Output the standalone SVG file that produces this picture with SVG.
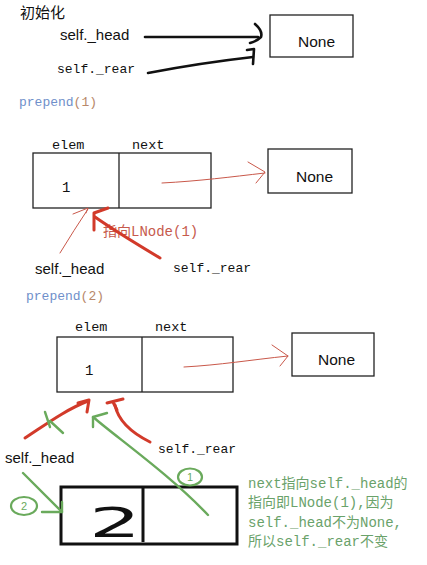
<svg xmlns="http://www.w3.org/2000/svg" width="427" height="565" viewBox="0 0 427 565">
<style>
.sans{font-family:"Liberation Sans","Noto Sans CJK SC",sans-serif;fill:#111}
.mono{font-family:"Liberation Mono","Noto Sans CJK SC",monospace;fill:#111}
.box{fill:#fff;stroke:#222;stroke-width:1.3}
.bk{fill:none;stroke:#111;stroke-width:2.6;stroke-linecap:round;stroke-linejoin:round}
.rt{fill:none;stroke:#c9584a;stroke-width:1;stroke-linecap:round}
.rd{fill:none;stroke:#d23a2a;stroke-width:3;stroke-linecap:round;stroke-linejoin:round}
.gr{fill:none;stroke:#6aaa5c;stroke-width:2.4;stroke-linecap:round;stroke-linejoin:round}
.blue{fill:#6f8fca}
.brown{fill:#b8886a}
.gtxt{font-family:"Liberation Mono","Noto Sans CJK SC",monospace;font-size:14px;fill:#6aa26a}
</style>
<rect width="427" height="565" fill="#fff"/>

<g id="title-init"><text class="sans" x="20" y="18" font-size="15">初始化</text></g>
<g id="head1"><text class="sans" x="60" y="40" font-size="15">self._head</text></g>
<g id="rear1"><text class="mono" x="57" y="73" font-size="13">self._rear</text></g>
<g id="none1"><rect class="box" x="270" y="15" width="83" height="42"/><text class="sans" x="298" y="47" font-size="15.5">None</text></g>
<g id="prepend1"><text font-family="Liberation Mono, monospace" font-size="13" x="19" y="106"><tspan class="blue">prepend</tspan><tspan class="brown">(1)</tspan></text></g>

<g id="node1">
<text class="mono" x="52" y="149" font-size="13.5">elem</text>
<text class="mono" x="132" y="149" font-size="13.5">next</text>
<rect class="box" x="33" y="153" width="178" height="55"/>
<line x1="119" y1="153" x2="119" y2="208" stroke="#222" stroke-width="1.3"/>
<text class="mono" x="62" y="192" font-size="14">1</text>
</g>
<g id="none2"><rect class="box" x="268" y="149" width="84" height="44"/><text class="sans" x="296" y="182" font-size="15.5">None</text></g>
<g id="note-lnode"><text font-family="Liberation Mono, Noto Sans CJK SC, monospace" font-size="14" x="103" y="236" fill="#c65a4c">指向LNode(1)</text></g>
<g id="head2"><text class="sans" x="35" y="274" font-size="15">self._head</text></g>
<g id="rear2"><text class="mono" x="173" y="272" font-size="13">self._rear</text></g>
<g id="prepend2"><text font-family="Liberation Mono, monospace" font-size="13" x="26" y="300"><tspan class="blue">prepend</tspan><tspan class="brown">(2)</tspan></text></g>

<g id="node1b">
<text class="mono" x="75" y="331" font-size="13.5">elem</text>
<text class="mono" x="155" y="331" font-size="13.5">next</text>
<rect class="box" x="57" y="337" width="176" height="55"/>
<line x1="142" y1="337" x2="142" y2="392" stroke="#222" stroke-width="1.3"/>
<text class="mono" x="85" y="375" font-size="14">1</text>
</g>
<g id="none3"><rect class="box" x="292" y="333" width="82" height="43"/><text class="sans" x="318" y="365" font-size="15.5">None</text></g>
<g id="head3"><text class="sans" x="5" y="463" font-size="15">self._head</text></g>
<g id="rear3"><text class="mono" x="158" y="453" font-size="13">self._rear</text></g>

<g id="node2">
<rect x="61" y="487" width="176" height="57" fill="#fff" stroke="#111" stroke-width="3"/>
<line x1="143" y1="487" x2="143" y2="542" stroke="#111" stroke-width="3"/>
<text x="89" y="537" font-family="DejaVu Sans, sans-serif" font-size="40" fill="#111" textLength="52" lengthAdjust="spacingAndGlyphs">2</text>
</g>
<g id="mark1"><ellipse cx="190" cy="477" rx="12" ry="8.5" fill="none" stroke="#6aaa5c" stroke-width="2.2"/><text x="190" y="481" text-anchor="middle" font-family="Liberation Sans, sans-serif" font-size="11" fill="#6aaa5c">1</text></g>
<g id="mark2"><ellipse cx="24" cy="506" rx="13" ry="9" fill="none" stroke="#6aaa5c" stroke-width="2.2"/><text x="24" y="510" text-anchor="middle" font-family="Liberation Sans, sans-serif" font-size="11" fill="#6aaa5c">2</text></g>
<g id="note-green">
<text class="gtxt" x="248" y="488">next指向self._head的</text>
<text class="gtxt" x="248" y="507">指向即LNode(1),因为</text>
<text class="gtxt" x="248" y="527">self._head不为None,</text>
<text class="gtxt" x="248" y="546">所以self._rear不变</text>
</g>

<g id="connectors">
<path class="bk" d="M145,37 L258,37"/>
<path class="bk" d="M255,24 Q263,31 261,37 Q257,41 250,43"/>
<path class="bk" d="M148,73 Q200,63 253,57"/>
<path class="bk" d="M247,50 L254,49 L253,64"/>

<path class="rt" d="M162,183 C200,181 230,177 265,173"/>
<path class="rt" d="M248,162 L265,172 L256,183"/>
<path class="rt" d="M60,253 Q74,230 88,209"/>
<path class="rt" d="M73,214 L88,208 L86,213"/>
<path class="rd" d="M160,258 C140,246 115,231 95,217"/>
<path class="rd" d="M94,230 L94,213 L108,208"/>

<path class="rt" d="M184,367 C220,365 250,360 288,356"/>
<path class="rt" d="M272,345 L288,356 L280,366"/>
<path class="rd" d="M25,438 C45,425 65,410 88,401"/>
<path class="rd" d="M78,403 L89,400 L87,412"/>
<path class="gr" d="M45,412 L50,427 M50,421 L63,433"/>
<path class="gr" d="M93,417 C120,440 170,475 208,515"/>
<path class="gr" d="M107,413 L93,417 L93,427"/>
<path class="rd" d="M150,442 C130,432 118,420 115,405"/>
<path class="rd" d="M107,403 L123,399 M113,402 L117,410"/>
<path class="gr" d="M23,473 L62,512"/>
<path class="gr" d="M42,512 L62,512 L62,502"/>
</g>
</svg>
